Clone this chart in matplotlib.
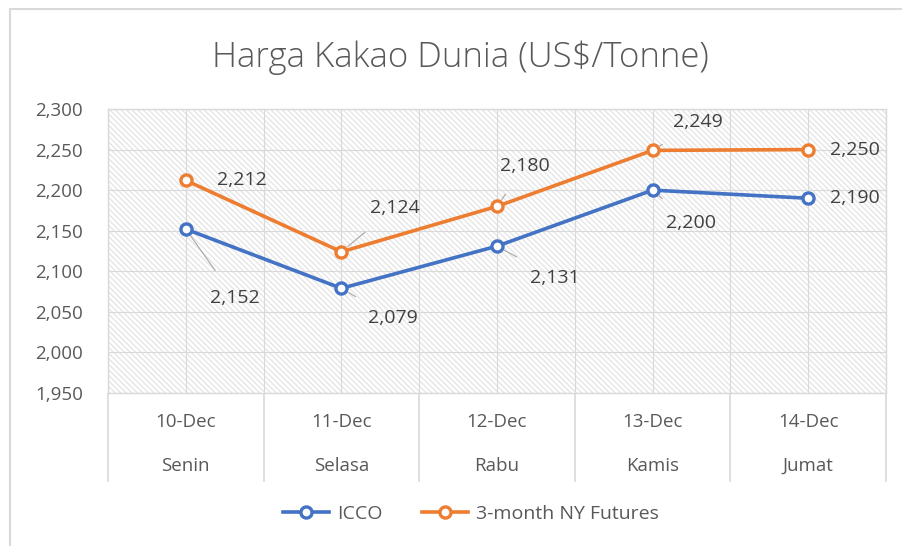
import matplotlib
matplotlib.use("Agg")
import matplotlib.pyplot as plt
from matplotlib.patches import Rectangle
from matplotlib.transforms import blended_transform_factory
from matplotlib.ticker import FuncFormatter

plt.rcParams["font.family"] = ["Open Sans", "DejaVu Sans"]
plt.rcParams["hatch.linewidth"] = 1.0

# data
dates = ["10-Dec", "11-Dec", "12-Dec", "13-Dec", "14-Dec"]
days = ["Senin", "Selasa", "Rabu", "Kamis", "Jumat"]
icco = [2152, 2079, 2131, 2200, 2190]
futures = [2212, 2124, 2180, 2249, 2250]

# label offsets (pixels) for each data label
icco_off = [(49, -69), (51, -30), (58, -32), (38, -33), (47, 0)]
fut_off = [(56, 0), (53, 44), (28, 40), (45, 28), (47, 0)]

grey = "#595959"
grid_c = "#d9d9d9"
blue = "#4472C4"
orange = "#ED7D31"

fig = plt.figure(figsize=(9.02, 5.46), dpi=100)
ax = fig.add_axes([108/902, 1-393/546, (886-108)/902, (393-109)/546])

# outer chart border
fig.patches.append(Rectangle((10/902, -0.1), 1.0, 1.1 - 9/546, fill=False,
                             edgecolor=grid_c, linewidth=1.5,
                             transform=fig.transFigure, figure=fig))

# hatched plot background
ax.add_patch(Rectangle((0, 0), 1, 1, transform=ax.transAxes, facecolor="white",
                       edgecolor="#e6e6e6", hatch="\\\\\\\\\\\\", linewidth=0, zorder=0))

x = list(range(len(dates)))
ax.plot(x, icco, color=blue, lw=2.6, marker="o", ms=8, mfc="white", mec=blue,
        mew=2.4, label="ICCO", zorder=3)
ax.plot(x, futures, color=orange, lw=2.6, marker="o", ms=8, mfc="white", mec=orange,
        mew=2.4, label="3-month NY Futures", zorder=3)

# data labels, with leader lines only for the ones moved away from the point
for series, offsets in [(icco, icco_off), (futures, fut_off)]:
    for xi, v, off in zip(x, series, offsets):
        arrow = None
        if off[1] != 0:
            arrow = dict(arrowstyle="-", color="#a6a6a6", lw=0.8, shrinkA=14, shrinkB=6)
        ax.annotate(f"{v:,}", (xi, v), xytext=off, textcoords="offset pixels",
                    ha="center", va="center", fontsize=14, color="#404040",
                    arrowprops=arrow)

ax.set_xlim(-0.5, len(dates) - 0.5)
ax.set_ylim(1950, 2300)
ax.set_yticks(range(1950, 2301, 50))
ax.yaxis.set_major_formatter(FuncFormatter(lambda v, p: f"{int(v):,}"))
ax.tick_params(axis="y", length=0, labelsize=13.5, labelcolor=grey, pad=18)

# vertical lines at category boundaries and centres, horizontal grid
ax.set_xticks([i - 0.5 for i in range(len(dates) + 1)])
ax.set_xticks(x, minor=True)
ax.tick_params(axis="x", which="both", labelbottom=False)
ax.tick_params(axis="x", which="major", length=64, color=grid_c, width=1.2)
ax.tick_params(axis="x", which="minor", length=0)
ax.grid(True, which="both", color=grid_c, lw=0.8, zorder=1)
ax.set_axisbelow(True)
for s in ax.spines.values():
    s.set_color(grid_c)
    s.set_linewidth(1.0)

# two-level category labels
tr = blended_transform_factory(ax.transData, ax.transAxes)
for xi, d, day in zip(x, dates, days):
    ax.text(xi, -0.102, d, transform=tr, ha="center", va="center", fontsize=13.5, color=grey)
    ax.text(xi, -0.257, day, transform=tr, ha="center", va="center", fontsize=13.5, color=grey)

fig.text(0.51, 1 - 58/546, "Harga Kakao Dunia (US$/Tonne)", ha="center", va="center",
         fontsize=25, color=grey, fontweight="light")

fig.legend(loc="center", bbox_to_anchor=(0.522, 1 - 514/546), ncol=2, frameon=False,
           fontsize=14, labelcolor=grey, handlelength=2.4, columnspacing=2.0,
           handletextpad=0.4)

fig.savefig("out.png", dpi=100)
